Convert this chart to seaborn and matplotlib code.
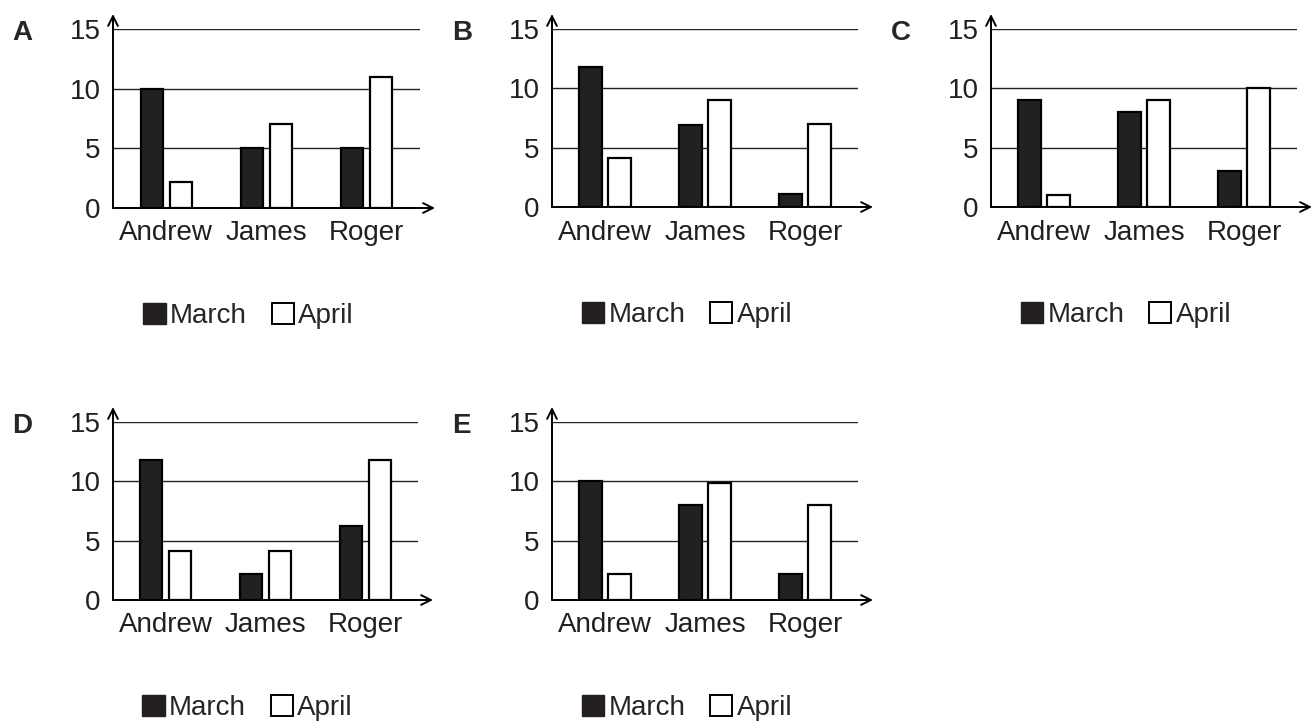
import numpy as np
import pandas as pd
import seaborn as sns
import matplotlib.pyplot as plt
from matplotlib.patches import Patch

sns.set_style('white')
plt.rcParams['font.family'] = ['Liberation Sans', 'DejaVu Sans']

# datos
paneles = ['A', 'B', 'C', 'D', 'E']
nombres = ['Andrew', 'James', 'Roger']
meses = ['March', 'April']
march_A = [10, 5, 5]
april_A = [2.2, 7, 11]
march_B = [11.8, 6.9, 1.1]
april_B = [4.1, 9, 7]
march_C = [9, 8, 3]
april_C = [1, 9, 10]
march_D = [11.8, 2.2, 6.2]
april_D = [4.1, 4.1, 11.8]
march_E = [10, 8, 2.2]
april_E = [2.2, 9.9, 8]
y_ticks = [0, 5, 10, 15]

datos_march = [march_A, march_B, march_C, march_D, march_E]
datos_april = [april_A, april_B, april_C, april_D, april_E]

W, H = 1314, 728
# cajas de ejes en pixeles: izquierda, derecha, arriba, abajo
cajas = [(113, 420, 29, 208), (552, 858, 29, 207), (991, 1297, 29, 207),
         (113, 418, 422, 600), (552, 858, 422, 600)]
letras_x = [12, 452, 891, 12, 452]

negro = '#231f20'
fs = 20

fig = plt.figure(figsize=(W / 100, H / 100), dpi=100)

for i, p in enumerate(paneles):
    l, r, t, b = cajas[i]
    ax = fig.add_axes([l / W, 1 - b / H, (r - l) / W, (b - t) / H])
    df = pd.DataFrame({
        'nombre': nombres * 2,
        'mes': ['March'] * 3 + ['April'] * 3,
        'valor': datos_march[i] + datos_april[i],
    })
    sns.barplot(data=df, x='nombre', y='valor', hue='mes', order=nombres,
                hue_order=meses, palette={'March': negro, 'April': 'white'},
                edgecolor='black', linewidth=1.6, width=0.58, gap=0.24,
                legend=False, ax=ax, zorder=3)
    ax.set_xlim(-0.53, 2.53)
    ax.set_ylim(0, 15)
    ax.set_yticks(y_ticks)
    ax.set_xlabel('')
    ax.set_ylabel('')
    ax.grid(False)
    for yv in y_ticks[1:]:
        ax.axhline(yv, color='#222222', lw=1.0, zorder=1)
    for s in ax.spines.values():
        s.set_visible(False)
    ax.tick_params(axis='both', length=0, labelsize=fs, colors='#231f20')
    ax.tick_params(axis='y', pad=9)
    ax.tick_params(axis='x', pad=9)

    # ejes con flecha
    ext_x = (r + 15 - l) / (r - l)
    ext_y = 1 + 15 / (b - t)
    ax.annotate('', xy=(ext_x, 0), xytext=(0, 0), xycoords='axes fraction',
                arrowprops=dict(arrowstyle='->,head_length=0.7,head_width=0.35',
                                color='black', lw=1.4, shrinkA=0, shrinkB=0),
                annotation_clip=False, zorder=5)
    ax.annotate('', xy=(0, ext_y), xytext=(0, 0), xycoords='axes fraction',
                arrowprops=dict(arrowstyle='->,head_length=0.7,head_width=0.35',
                                color='black', lw=1.4, shrinkA=0, shrinkB=0),
                annotation_clip=False, zorder=5)

    fig.text(letras_x[i] / W, 1 - (t + 4) / H, p, fontsize=fs, fontweight='bold',
             ha='left', va='center')

    handles = [Patch(facecolor=negro, edgecolor=negro, lw=1.0, label='March'),
               Patch(facecolor='white', edgecolor='black', lw=1.4, label='April')]
    cx = (l + r) / 2 - 18
    cy = b + 108
    fig.legend(handles=handles, loc='center', bbox_to_anchor=(cx / W, 1 - cy / H),
               ncol=2, frameon=False, fontsize=fs, handlelength=0.8,
               handleheight=0.8, handletextpad=0.15, columnspacing=0.9,
               borderpad=0, borderaxespad=0)

plt.savefig('out.png', dpi=100)
